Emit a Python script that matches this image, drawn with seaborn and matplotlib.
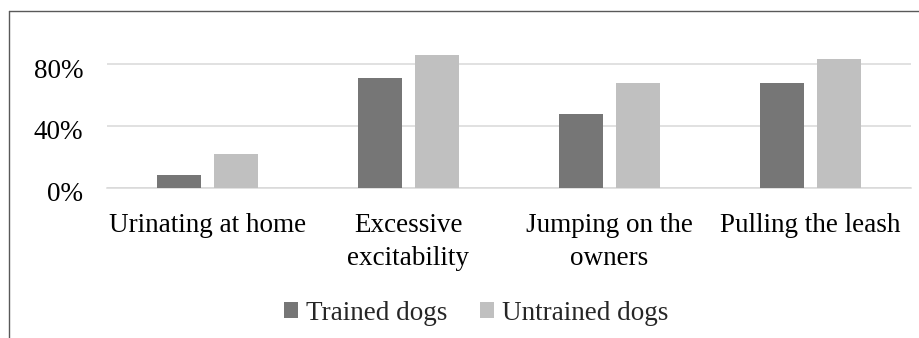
import matplotlib
matplotlib.use("Agg")
import matplotlib.pyplot as plt
from matplotlib.lines import Line2D
from matplotlib.ticker import PercentFormatter
from matplotlib.transforms import ScaledTranslation
import seaborn as sns
import pandas as pd

categories = ["Urinating at home", "Excessive\nexcitability", "Jumping on the\nowners", "Pulling the leash"]
series_names = ["Trained dogs", "Untrained dogs"]
trained = [0.08, 0.71, 0.48, 0.68]
untrained = [0.22, 0.86, 0.68, 0.83]
y_ticks = [0.0, 0.4, 0.8]

df = pd.DataFrame({
    "behaviour": categories * 2,
    "group": [series_names[0]] * len(categories) + [series_names[1]] * len(categories),
    "share": trained + untrained,
})

sns.set_theme(style="white")
plt.rcParams["font.family"] = ["Liberation Serif", "DejaVu Serif"]
FS = 19.5

fig = plt.figure(figsize=(9.2, 3.38), dpi=100)
ax = fig.add_axes([107 / 920, 1 - 187.7 / 338, 804 / 920, (187.7 - 33.2) / 338])

sns.barplot(data=df, x="behaviour", y="share", hue="group",
            palette=["#767676", "#c0c0c0"], width=0.57, gap=0.22,
            linewidth=0, errorbar=None, ax=ax, zorder=3)

ax.set_ylim(0, 1.0)
ax.set_xlim(-0.5, len(categories) - 0.5)
ax.set_yticks(y_ticks)
ax.yaxis.set_major_formatter(PercentFormatter(1.0, decimals=0))
ax.grid(axis="y", color="#d9d9d9", linewidth=1.1, zorder=0)
ax.grid(axis="x", visible=False)
for side in ["top", "right", "left"]:
    ax.spines[side].set_visible(False)
ax.spines["bottom"].set_color("#d9d9d9")
ax.spines["bottom"].set_linewidth(1.1)
ax.set_xlabel("")
ax.set_ylabel("")
ax.tick_params(axis="y", length=0, pad=17, labelsize=FS, labelcolor="black")
ax.tick_params(axis="x", length=0, pad=18.5, labelsize=FS, labelcolor="black")
for lbl in ax.get_xticklabels():
    lbl.set_linespacing(1.4)
shift_down = ScaledTranslation(0, -4 / 100, fig.dpi_scale_trans)
for lbl in ax.get_yticklabels():
    lbl.set_transform(lbl.get_transform() + shift_down)

sns.move_legend(ax, "center", bbox_to_anchor=(476 / 920, 1 - 313 / 338),
                bbox_transform=fig.transFigure, ncol=2, frameon=False, title=None,
                fontsize=FS, handlelength=0.52, handleheight=0.52,
                handletextpad=0.3, columnspacing=1.2)

# chart frame (top and left edges)
fig.add_artist(Line2D([9 / 920, 1], [1 - 11 / 338, 1 - 11 / 338], transform=fig.transFigure,
                      color="#595959", linewidth=1.0))
fig.add_artist(Line2D([9 / 920, 9 / 920], [0, 1 - 11 / 338], transform=fig.transFigure,
                      color="#595959", linewidth=1.0))

fig.savefig("out.png", dpi=100)
